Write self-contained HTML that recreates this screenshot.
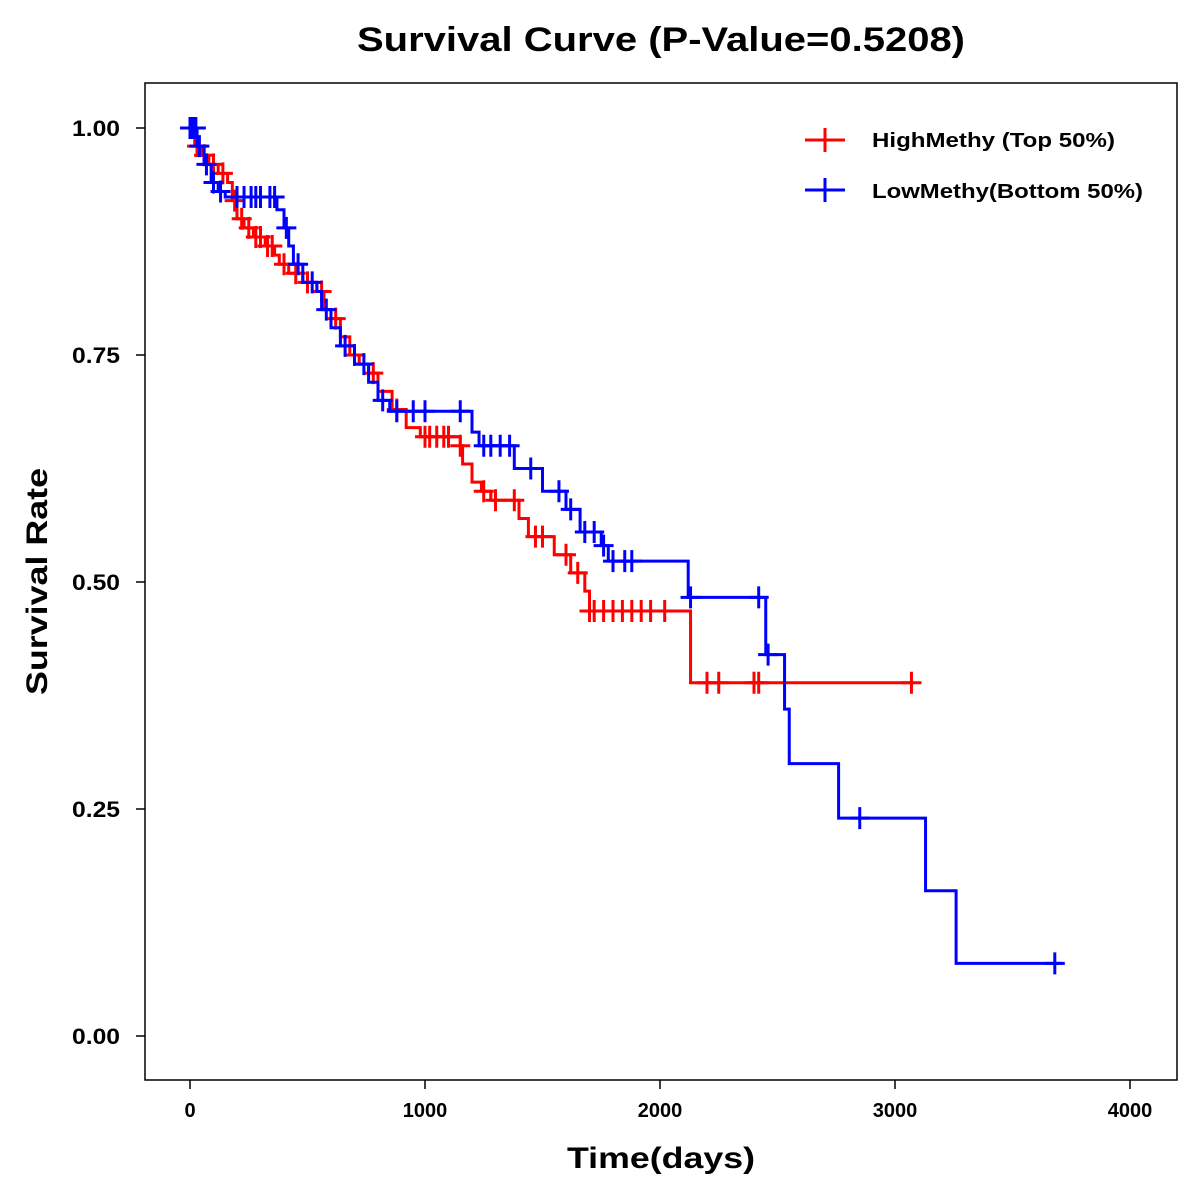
<!DOCTYPE html>
<html><head><meta charset="utf-8"><style>body{margin:0;background:#fff}svg{display:block}text{font-family:"Liberation Sans",Arial,sans-serif;font-weight:bold}</style></head>
<body>
<svg id="chart" width="1200" height="1200" xmlns="http://www.w3.org/2000/svg">
<rect x="0" y="0" width="1200" height="1200" fill="#fff"/>
<text x="357" y="51" font-size="34" textLength="608" lengthAdjust="spacingAndGlyphs">Survival Curve (P-Value=0.5208)</text>
<rect x="145" y="83" width="1032" height="997" fill="none" stroke="#000" stroke-width="1.5"/>
<g id="axes"></g>
<g id="series"></g>
<text x="567" y="1168" font-size="30" textLength="188" lengthAdjust="spacingAndGlyphs">Time(days)</text>
<text transform="translate(47,695) rotate(-90)" font-size="30" textLength="227" lengthAdjust="spacingAndGlyphs">Survival Rate</text>
<g>
<g><line x1="805" y1="140" x2="845" y2="140" stroke="#f00" stroke-width="3"/><line x1="825" y1="128" x2="825" y2="152" stroke="#f00" stroke-width="3"/><text x="872" y="147" font-size="20" textLength="243" lengthAdjust="spacingAndGlyphs">HighMethy (Top 50%)</text></g>
<g><line x1="805" y1="190" x2="845" y2="190" stroke="#00f" stroke-width="3"/><line x1="825" y1="178" x2="825" y2="202" stroke="#00f" stroke-width="3"/><text x="872" y="198" font-size="20" textLength="271" lengthAdjust="spacingAndGlyphs">LowMethy(Bottom 50%)</text></g>
</g>
</svg>
<script>
const xTicks=[0,1000,2000,3000,4000];
const yTicks=[0,0.25,0.5,0.75,1.0];
const yTickLabels=["0.00","0.25","0.50","0.75","1.00"];
const highTimes=[0,20,50,80,120,160,180,200,230,270,320,360,380,420,480,540,570,600,640,680,720,760,800,860,920,980,1150,1160,1200,1240,1280,1400,1440,1550,1620,1680,1700,2130];
const highSurv=[1.0,0.98,0.97,0.96,0.95,0.94,0.92,0.90,0.89,0.88,0.87,0.86,0.85,0.84,0.83,0.82,0.80,0.79,0.77,0.75,0.74,0.73,0.71,0.69,0.67,0.66,0.65,0.63,0.61,0.60,0.59,0.57,0.55,0.53,0.51,0.49,0.468,0.389];
const highEnd=3080;
const highCensor=[10,30,60,100,140,190,220,250,280,300,330,350,400,450,500,560,620,700,780,880,1000,1020,1050,1080,1100,1150,1250,1300,1380,1470,1500,1600,1650,1700,1720,1760,1800,1840,1880,1920,1960,2020,2200,2250,2400,2420,3070];
const lowTimes=[0,30,60,90,120,150,370,400,420,440,480,540,560,600,640,700,760,800,850,1200,1230,1380,1500,1600,1660,1750,1780,2120,2450,2530,2550,2760,3130,3260];
const lowSurv=[1.0,0.98,0.96,0.94,0.93,0.924,0.91,0.89,0.87,0.85,0.83,0.82,0.80,0.78,0.76,0.74,0.72,0.70,0.688,0.665,0.65,0.625,0.60,0.58,0.555,0.54,0.523,0.483,0.42,0.36,0.30,0.24,0.16,0.08];
const lowEnd=3710;
const lowCensor=[0,5,15,25,40,70,100,130,200,230,260,280,300,340,360,410,460,520,580,660,740,820,880,950,1000,1150,1250,1280,1320,1360,1450,1570,1620,1680,1720,1760,1800,1850,1880,2130,2420,2460,2850,3680];
const NS="http://www.w3.org/2000/svg";
const X=t=>190+t*0.235, Y=s=>1036-s*908;
function mk(tag,attrs,parent){const e=document.createElementNS(NS,tag);for(const k in attrs)e.setAttribute(k,attrs[k]);parent.appendChild(e);return e;}
const ax=document.getElementById('axes');
xTicks.forEach(t=>{const l=mk('line',{x1:X(t),x2:X(t),y1:1080,y2:1089,stroke:'#000','stroke-width':1.5},ax);


const tx=mk('text',{x:X(t),y:1117,'font-size':20,'text-anchor':'middle'},ax);tx.textContent=t;

});
yTicks.forEach((v,i)=>{const l=mk('line',{x1:136,x2:145,y1:Y(v),y2:Y(v),stroke:'#000','stroke-width':1.5},ax);


const tx=mk('text',{x:72,y:Y(v)+8,'font-size':22,textLength:48,lengthAdjust:'spacingAndGlyphs'},ax);tx.textContent=yTickLabels[i];

});
const sg=document.getElementById('series');
function surv(times,sv,t){let s=sv[0];for(let i=0;i<times.length;i++){if(times[i]<=t)s=sv[i];}return s;}
function draw(times,sv,end,cens,color,name){
let d='M'+X(times[0])+','+Y(sv[0]);
for(let i=1;i<times.length;i++){d+='H'+X(times[i])+'V'+Y(sv[i]);}
d+='H'+X(end);
const p=mk('path',{d:d,fill:'none',stroke:color,'stroke-width':3},sg);


cens.forEach(t=>{const s=surv(times,sv,t);const cx=X(t),cy=Y(s);
const c=mk('path',{d:`M${cx-10},${cy}H${cx+10}M${cx},${cy-11}V${cy+11}`,stroke:color,'stroke-width':3,fill:'none'},sg);

});}
draw(highTimes,highSurv,highEnd,highCensor,'#f00','high-methy');
draw(lowTimes,lowSurv,lowEnd,lowCensor,'#00f','low-methy');
</script>
</body></html>
